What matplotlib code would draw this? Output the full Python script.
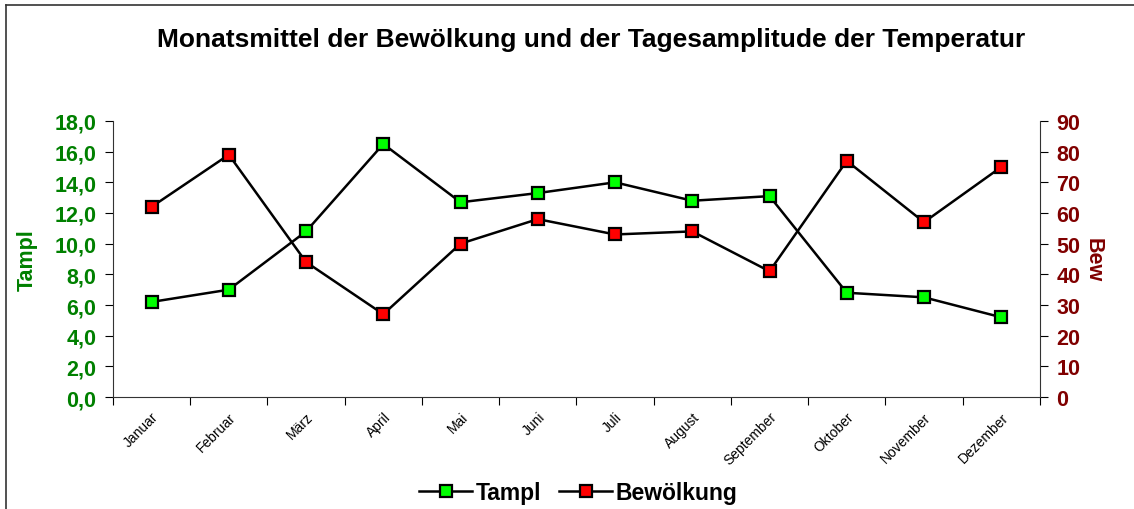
import numpy as np
import matplotlib
matplotlib.use("Agg")
import matplotlib.pyplot as plt
from matplotlib.lines import Line2D

plt.rcParams['font.family'] = ['Liberation Sans', 'DejaVu Sans']

months = ["Januar", "Februar", "März", "April", "Mai", "Juni", "Juli",
          "August", "September", "Oktober", "November", "Dezember"]
tampl = [6.2, 7.0, 10.8, 16.5, 12.7, 13.3, 14.0, 12.8, 13.1, 6.8, 6.5, 5.2]
bew = [62, 79, 44, 27, 50, 58, 53, 54, 41, 77, 57, 75]

GREEN_TXT = "#008000"
RED_TXT = "#800000"

fig = plt.figure(figsize=(11.34, 5.10), dpi=100)
ax = fig.add_axes([0.0996, 0.2196, 0.8174, 0.5412])
ax2 = ax.twinx()

x = np.arange(len(months))
ax.plot(x, tampl, color="black", lw=1.8, marker="s", ms=8.5,
        mfc="#00FF00", mec="black", mew=1.6, zorder=3)
ax2.plot(x, bew, color="black", lw=1.8, marker="s", ms=8.5,
         mfc="#FF0000", mec="black", mew=1.6, zorder=3)

ax.set_xlim(-0.5, len(months) - 0.5)
ax.set_ylim(0, 18)
ax2.set_ylim(0, 90)
ax.set_yticks(np.arange(0, 18.1, 2))
ax.set_yticklabels([f"{v:.1f}".replace(".", ",") for v in np.arange(0, 18.1, 2)])
ax2.set_yticks(np.arange(0, 91, 10))

# category ticks between months, labels at centres
ax.set_xticks(np.arange(-0.5, len(months), 1.0))
ax.set_xticklabels([])
ax.set_xticks(x, minor=True)
ax.set_xticklabels(months, minor=True, rotation=45, ha="right",
                   rotation_mode="anchor", fontsize=10)
ax.tick_params(axis="x", which="minor", length=0, pad=9)
ax.tick_params(axis="x", which="major", length=6, direction="out")

ax.tick_params(axis="y", length=6, direction="out", labelsize=15.5,
               labelcolor=GREEN_TXT, pad=6)
ax2.tick_params(axis="y", length=6, direction="out", labelsize=15.5,
                labelcolor=RED_TXT, pad=6)
for t in ax.get_yticklabels():
    t.set_fontweight("bold")
for t in ax2.get_yticklabels():
    t.set_fontweight("bold")

for a in (ax, ax2):
    a.spines["top"].set_visible(False)
ax.spines["right"].set_visible(False)
ax2.spines["left"].set_visible(False)
ax2.spines["bottom"].set_visible(False)
for s in ("left", "bottom"):
    ax.spines[s].set_color("#333333")
ax2.spines["right"].set_color("#333333")

ax.set_ylabel("Tampl", color=GREEN_TXT, fontsize=15.5, fontweight="bold")
ax.yaxis.set_label_coords(-0.081, 0.5)
ax2.set_ylabel("Bew", color=RED_TXT, fontsize=15.5, fontweight="bold",
               rotation=270)
ax2.yaxis.set_label_coords(1.069, 0.5)

fig.text(0.521, 0.922, "Monatsmittel der Bewölkung und der Tagesamplitude der Temperatur",
         ha="center", va="center", fontsize=19, fontweight="bold")

handles = [
    Line2D([], [], color="black", lw=1.8, marker="s", ms=8.5, mfc="#00FF00",
           mec="black", mew=1.6),
    Line2D([], [], color="black", lw=1.8, marker="s", ms=8.5, mfc="#FF0000",
           mec="black", mew=1.6),
]
fig.legend(handles, ["Tampl", "Bewölkung"], loc="center",
           bbox_to_anchor=(0.51, 0.033), ncol=2, frameon=False,
           prop={"weight": "bold", "size": 16.5}, handlelength=2.3,
           handletextpad=0.15, columnspacing=0.8)

# outer chart frame (left and top edges visible)
fig.add_artist(Line2D([0.0053, 0.0053], [0, 0.988], color="#333333", lw=1.2,
                      transform=fig.transFigure))
fig.add_artist(Line2D([0.0053, 1.0], [0.988, 0.988], color="#333333", lw=1.2,
                      transform=fig.transFigure))

fig.savefig("out.png", dpi=100)
